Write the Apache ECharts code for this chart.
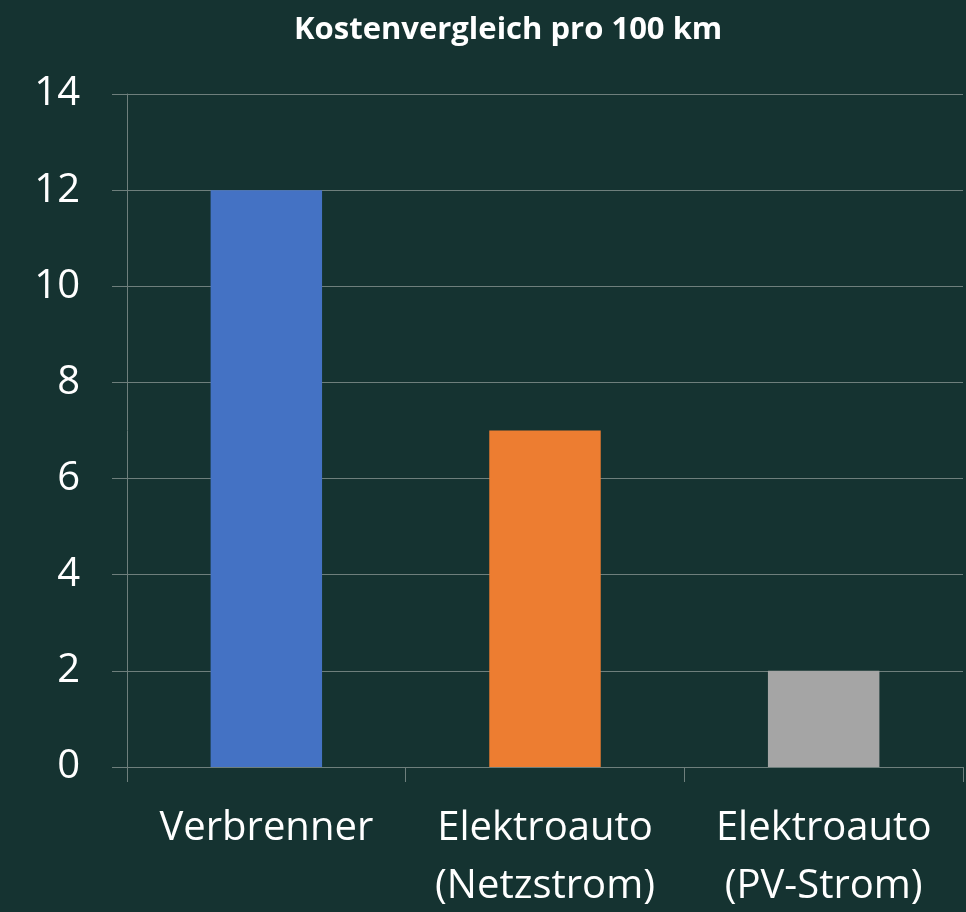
<!DOCTYPE html>
<html>
<head>
<meta charset="utf-8">
<script src="https://cdn.jsdelivr.net/npm/echarts@6/dist/echarts.min.js"></script>
<style>
  html, body { margin: 0; padding: 0; background: #153331; }
  #chart { width: 966px; height: 912px; }
</style>
</head>
<body>
<div id="chart"></div>
<script>
var categories = ['Verbrenner', 'Elektroauto\n(Netzstrom)', 'Elektroauto\n(PV-Strom)'];
var costs = [12, 7, 2];
var barColors = ['#4472c4', '#ed7d31', '#a5a5a5'];
var yTicks = [0, 2, 4, 6, 8, 10, 12, 14];

var chart = echarts.init(document.getElementById('chart'));
var lineColor = '#6e7f7c';

var option = {
    backgroundColor: '#153331',
    title: {
        text: 'Kostenvergleich pro 100 km',
        left: 289,
        top: 10,
        textStyle: { color: '#ffffff', fontFamily: 'Open Sans', fontWeight: 'bold', fontSize: 31 }
    },
    grid: { left: 127, right: 3, top: 94, bottom: 145, containLabel: false, outerBoundsMode: 'none' },
    xAxis: {
        type: 'category',
        data: categories,
        axisLine: { show: true, lineStyle: { color: lineColor, width: 1 } },
        axisTick: { show: true, length: 15, interval: 0, lineStyle: { color: lineColor } },
        axisLabel: {
            interval: 0,
            color: '#ffffff',
            fontFamily: 'Open Sans',
            fontSize: 40,
            lineHeight: 58,
            margin: 33
        }
    },
    yAxis: {
        type: 'value',
        min: yTicks[0],
        max: yTicks[yTicks.length - 1],
        interval: 2,
        axisLine: { show: true, lineStyle: { color: lineColor, width: 1 } },
        axisTick: { show: true, length: 15, lineStyle: { color: lineColor } },
        splitLine: { show: true, lineStyle: { color: lineColor, width: 1 } },
        axisLabel: {
            color: '#ffffff',
            fontFamily: 'Open Sans',
            fontSize: 40,
            margin: 47
        }
    },
    series: [{
        type: 'bar',
        data: costs.map(function (v, i) {
            return { value: v, itemStyle: { color: barColors[i] } };
        }),
        barWidth: '40%'
    }]
};

chart.setOption(option);
</script>
</body>
</html>
